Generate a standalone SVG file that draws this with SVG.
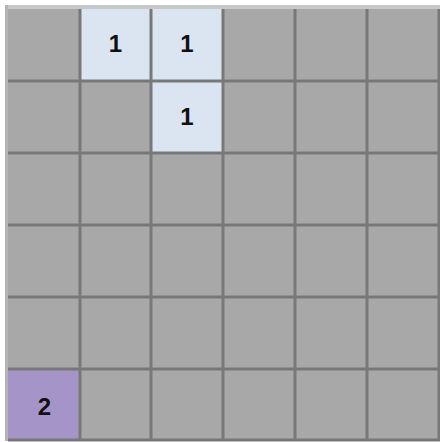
<svg xmlns="http://www.w3.org/2000/svg" width="440" height="442" viewBox="0 0 440 442">
<style>
.cell{fill:#a8a8a8}
.hl{fill:#dae5f1}
.pu{fill:#a594c8}
.grid line{stroke:#787878;stroke-width:3}
.t{font-family:"Liberation Sans",Arial,sans-serif;font-size:24px;font-weight:bold;fill:#111;text-anchor:middle;dominant-baseline:central}
</style>
<rect x="0" y="0" width="440" height="442" fill="#ffffff"/>
<rect x="5" y="5" width="435" height="4" fill="#c8c8c8"/>
<rect x="5" y="5" width="3" height="436" fill="#b4b4b4"/>
<g id="board">
<rect class="cell" x="8" y="9" width="431" height="432"/>
</g>
<g id="cell-1-0"><rect class="hl" x="80" y="9" width="71" height="72"/><text class="t" x="115.5" y="43">1</text></g>
<g id="cell-2-0"><rect class="hl" x="151" y="9" width="72" height="72"/><text class="t" x="187" y="43">1</text></g>
<g id="cell-2-1"><rect class="hl" x="151" y="81" width="72" height="72"/><text class="t" x="187" y="116">1</text></g>
<g id="cell-0-5"><rect class="pu" x="8" y="369" width="72" height="71"/><text class="t" x="44.5" y="406">2</text></g>
<g id="grid" class="grid">
<line x1="80" y1="9" x2="80" y2="441"/>
<line x1="151" y1="9" x2="151" y2="441"/>
<line x1="223" y1="9" x2="223" y2="441"/>
<line x1="295" y1="9" x2="295" y2="441"/>
<line x1="367" y1="9" x2="367" y2="441"/>
<line x1="439" y1="9" x2="439" y2="441"/>
<line x1="8" y1="81" x2="440" y2="81"/>
<line x1="8" y1="153" x2="440" y2="153"/>
<line x1="8" y1="225" x2="440" y2="225"/>
<line x1="8" y1="297" x2="440" y2="297"/>
<line x1="8" y1="369" x2="440" y2="369"/>
<line x1="8" y1="440" x2="440" y2="440"/>
</g>
</svg>
